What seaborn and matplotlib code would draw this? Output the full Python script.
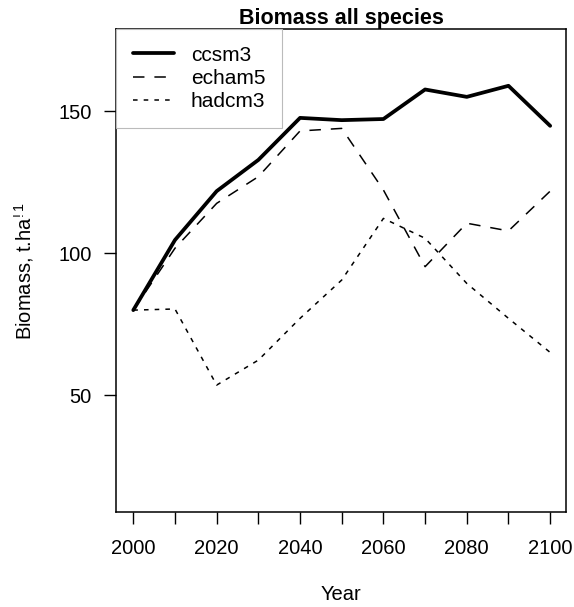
import matplotlib
matplotlib.use("Agg")
import matplotlib.pyplot as plt
import seaborn as sns
import pandas as pd

years = [2000, 2010, 2020, 2030, 2040, 2050, 2060, 2070, 2080, 2090, 2100]
ccsm3 = [80.0, 104.7, 121.9, 132.9, 147.7, 146.9, 147.3, 157.7, 155.1, 159.0, 144.9]
echam5 = [80.0, 101.8, 117.6, 127.0, 143.1, 144.0, 122.3, 95.3, 110.6, 107.9, 121.9]
hadcm3 = [80.0, 80.4, 53.6, 62.4, 77.1, 90.6, 112.3, 105.3, 89.4, 77.1, 65.1]
models = ["ccsm3", "echam5", "hadcm3"]
xticks = [2000, 2020, 2040, 2060, 2080, 2100]
xticks_minor = [2010, 2030, 2050, 2070, 2090]
yticks = [50, 100, 150]

df = pd.DataFrame({
    "Year": years * 3,
    "Biomass": ccsm3 + echam5 + hadcm3,
    "model": [m for m in models for _ in years],
})

sns.set_style("white")
plt.rcParams["font.family"] = ["Liberation Sans", "DejaVu Sans"]
plt.rcParams["mathtext.default"] = "regular"
plt.rcParams["text.color"] = "black"
plt.rcParams["axes.labelcolor"] = "black"
plt.rcParams["xtick.color"] = "black"
plt.rcParams["ytick.color"] = "black"

fig = plt.figure(figsize=(5.74, 6.07), dpi=100)
ax = fig.add_axes([116/574, 1 - 512.3/607, (566 - 116)/574, (512.3 - 29)/607])

sns.lineplot(data=df, x="Year", y="Biomass", hue="model", style="model",
             palette=["black"] * 3,
             dashes={"ccsm3": "", "echam5": (7.5, 6.5), "hadcm3": (3, 4)},
             size="model", sizes={"ccsm3": 2.7, "echam5": 1.1, "hadcm3": 1.1},
             ax=ax, legend="full")

ax.set_xlim(1995.85, 2103.8)
ax.set_ylim(8.8, 179)
ax.set_xticks(xticks)
ax.set_xticks(xticks_minor, minor=True)
ax.set_yticks(yticks)
ax.tick_params(axis="both", which="both", direction="out", length=8.5, width=1,
               colors="black", labelsize=14.5, bottom=True, left=True)
ax.tick_params(axis="x", pad=11)
ax.tick_params(axis="y", pad=9)
for s in ax.spines.values():
    s.set_visible(True)
    s.set_color("black")
    s.set_linewidth(1.1)

ax.set_xlabel("Year", fontsize=14.5, labelpad=19, color="black")
ax.set_ylabel("Biomass, t.ha$^{!1}$", fontsize=14.5, labelpad=16, color="black")
ax.set_title("Biomass all species", fontsize=15.5, fontweight="bold", pad=3,
             color="black")

handles, labels = ax.get_legend_handles_labels()
hl = [(h, l) for h, l in zip(handles, labels) if l in models]
leg = ax.legend([h for h, _ in hl], [l for _, l in hl], loc="upper left",
                bbox_to_anchor=(0, 1), borderaxespad=0, fontsize=15,
                frameon=True, fancybox=False, framealpha=1, edgecolor="#bbbbbb",
                handlelength=2.0, handletextpad=0.8, labelspacing=0.2,
                borderpad=0.8)
leg.get_frame().set_linewidth(0.8)
for t in leg.get_texts():
    t.set_color("black")

fig.savefig("out.png", dpi=100)
